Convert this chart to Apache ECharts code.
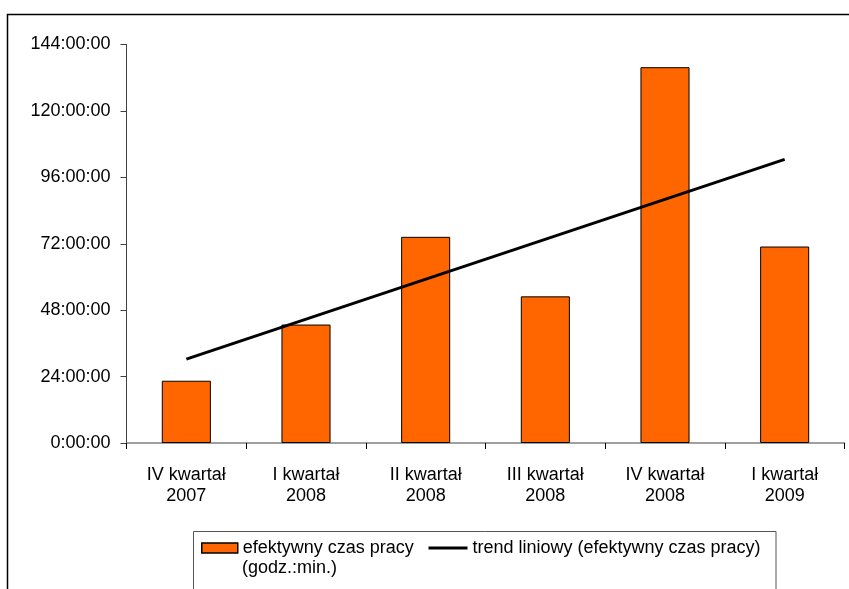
<!DOCTYPE html>
<html>
<head>
<meta charset="utf-8">
<script src="https://cdn.jsdelivr.net/npm/echarts@6/dist/echarts.min.js"></script>
<style>html,body{margin:0;padding:0;background:#fff}#c{width:849px;height:589px}</style>
</head>
<body>
<div id="c"></div>
<script>
// Data (hours)
const categories = ['IV kwartał\n2007', 'I kwartał\n2008', 'II kwartał\n2008', 'III kwartał\n2008', 'IV kwartał\n2008', 'I kwartał\n2009'];
const workHours = [22.5, 42.8, 74.5, 53.0, 135.8, 71.0];
const trendHours = [30.3, null, null, null, null, 102.5];
const yTicks = [0, 24, 48, 72, 96, 120, 144];
const barName = 'efektywny czas pracy';
const barNameLine2 = '(godz.:min.)';
const trendName = 'trend liniowy (efektywny czas pracy)';

const font = 'Liberation Sans, Arial, sans-serif';
const chart = echarts.init(document.getElementById('c'), null, {renderer: 'canvas'});
chart.setOption({
  animation: false,
  backgroundColor: '#fff',
  grid: {left: 126.5, right: 4.5, top: 44.5, bottom: 146, containLabel: false},
  xAxis: {
    type: 'category',
    data: categories,
    boundaryGap: true,
    axisLine: {lineStyle: {color: '#808080', width: 1.5}},
    axisTick: {show: true, length: 6, alignWithLabel: false, lineStyle: {color: '#000', width: 1}},
    axisLabel: {color: '#000', fontFamily: font, fontSize: 18, lineHeight: 21, margin: 22, interval: 0}
  },
  yAxis: {
    type: 'value',
    min: yTicks[0],
    max: yTicks[yTicks.length - 1],
    interval: 24,
    splitLine: {show: false},
    axisLine: {show: true, lineStyle: {color: '#404040', width: 1}},
    axisTick: {show: true, length: 6, lineStyle: {color: '#404040', width: 1}},
    axisLabel: {color: '#000', fontFamily: font, fontSize: 18, margin: 16,
      formatter: v => v + ':00:00'}
  },
  legend: [
    {
      data: [{name: barName, icon: 'rect',
        itemStyle: {color: '#FF6600', borderColor: '#000', borderWidth: 1.5}}],
      left: 201, top: 538, padding: 0,
      itemWidth: 36, itemHeight: 10, itemGap: 0,
      textStyle: {color: '#000', fontFamily: font, fontSize: 18, lineHeight: 20}
    },
    {
      data: [trendName], left: 427, top: 538, padding: 0,
      itemWidth: 39, itemHeight: 10, itemGap: 0,
      itemStyle: {color: 'rgba(0,0,0,0)', borderColor: 'rgba(0,0,0,0)', borderWidth: 0, opacity: 0},
      lineStyle: {color: '#000', width: 3},
      textStyle: {color: '#000', fontFamily: font, fontSize: 18, lineHeight: 20}
    }
  ],
  graphic: [
    {type: 'rect', left: 5, top: 12, shape: {x: 0, y: 0, width: 900, height: 700},
      style: {fill: 'none', stroke: '#000', lineWidth: 1.5}, silent: true, z: -1},
    {type: 'rect', shape: {x: 193.5, y: 531.5, width: 582.5, height: 80},
      style: {fill: 'none', stroke: '#555', lineWidth: 1}, silent: true},
    {type: 'text', x: 242, y: 568, style: {text: barNameLine2, fill: '#000',
      font: '18px ' + font, verticalAlign: 'middle', align: 'left'}, silent: true}
  ],
  series: [
    {
      name: barName,
      type: 'bar',
      data: workHours,
      barWidth: '41%',
      itemStyle: {color: '#FF6600', borderColor: '#000', borderWidth: 1}
    },
    {
      name: trendName,
      type: 'line',
      data: trendHours,
      connectNulls: true,
      showSymbol: false,
      symbol: 'none',
      lineStyle: {color: '#000', width: 3},
      itemStyle: {color: '#000'},
      z: 5
    }
  ]
});
</script>
</body>
</html>
